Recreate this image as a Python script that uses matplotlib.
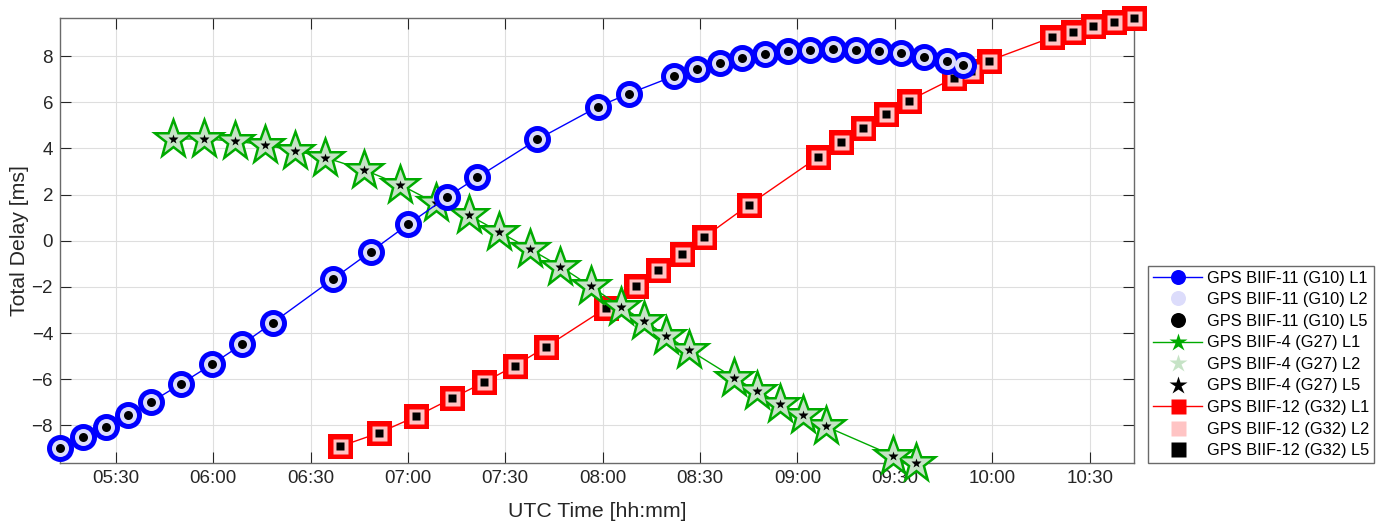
import matplotlib

matplotlib.use("Agg")
import matplotlib.pyplot as plt  # noqa: E402
import matplotlib.dates as mdates  # noqa: E402
from matplotlib.lines import Line2D  # noqa: E402
from matplotlib.markers import MarkerStyle  # noqa: E402
import pandas as pd  # noqa: E402

plt.rcParams["font.family"] = ["Liberation Sans", "DejaVu Sans"]

DAY = "2021-01-01 "

# GPS BIIF-11 (G10)
g10_time = ["05:12:50", "05:19:55", "05:26:55", "05:33:55", "05:40:55", "05:50:05",
            "05:59:35", "06:09:00", "06:18:25", "06:36:55", "06:48:30", "07:00:10",
            "07:11:55", "07:21:20", "07:39:55", "07:58:35", "08:08:00", "08:22:05",
            "08:29:00", "08:36:00", "08:43:00", "08:50:00", "08:57:00", "09:03:55",
            "09:11:00", "09:17:55", "09:25:00", "09:32:00", "09:39:00", "09:46:00",
            "09:50:55"]
g10_delay = [-8.98, -8.52, -8.05, -7.54, -6.99, -6.20, -5.36, -4.48, -3.55, -1.66,
             -0.48, 0.72, 1.88, 2.74, 4.39, 5.81, 6.37, 7.14, 7.44, 7.70, 7.92, 8.10,
             8.20, 8.28, 8.31, 8.28, 8.20, 8.13, 7.96, 7.80, 7.63]

# GPS BIIF-4 (G27)
g27_time = ["05:47:40", "05:57:10", "06:06:40", "06:15:55", "06:25:10", "06:34:35",
            "06:46:20", "06:57:35", "07:08:40", "07:18:55", "07:28:10", "07:37:35",
            "07:47:00", "07:56:20", "08:05:30", "08:12:50", "08:19:35", "08:26:30",
            "08:40:35", "08:47:35", "08:54:35", "09:01:40", "09:08:40", "09:29:35",
            "09:36:35"]
g27_delay = [4.41, 4.41, 4.32, 4.15, 3.90, 3.60, 3.08, 2.43, 1.62, 1.10, 0.38, -0.36,
             -1.12, -1.98, -2.85, -3.47, -4.12, -4.72, -5.95, -6.50, -7.06, -7.57,
             -8.04, -9.32, -9.63]

# GPS BIIF-12 (G32)
g32_time = ["06:39:10", "06:51:00", "07:02:35", "07:13:40", "07:23:20", "07:32:55",
            "07:42:25", "08:01:00", "08:10:10", "08:17:10", "08:24:25", "08:31:10",
            "08:45:05", "09:06:25", "09:13:20", "09:20:20", "09:27:20", "09:34:20",
            "09:48:20", "09:53:25", "09:59:00", "10:18:20", "10:24:50", "10:31:05",
            "10:37:25", "10:43:40"]
g32_delay = [-8.91, -8.33, -7.61, -6.82, -6.14, -5.42, -4.61, -2.92, -1.98, -1.26,
             -0.56, 0.14, 1.56, 3.63, 4.26, 4.90, 5.50, 6.07, 7.06, 7.34, 7.80, 8.81,
             9.04, 9.29, 9.48, 9.65]

satellites = ["GPS BIIF-11 (G10)", "GPS BIIF-4 (G27)", "GPS BIIF-12 (G32)"]
bands = ["L1", "L2", "L5"]

PX = 0.72  # points per pixel at dpi 100

# color, light color, marker, inner size, ring, L5 size, legend size (px)
styles = {
    "GPS BIIF-11 (G10)": ("#0000ff", "#dcdcfb", "o", 17, 10, 9, 15),
    "GPS BIIF-4 (G27)": ("#00aa00", "#c6e3c6", "*", 32, 5, 11, 19),
    "GPS BIIF-12 (G32)": ("#ff0000", "#ffc4c4", "s", 15, 10, 8, 15),
}


def to_dt(times):
    return pd.to_datetime([DAY + t for t in times])


def plot_sat(ax, t, d, style, z):
    color, light, marker, ms, ring, ms5, _ = style
    mk = MarkerStyle(marker, joinstyle="miter")
    ax.plot(t, d, "-", color=color, lw=1.0, marker=mk, ms=ms * PX, mfc=color,
            mec=color, mew=ring * PX, zorder=z, clip_on=False)
    ax.plot(t, d, ls="none", marker=marker, ms=ms * PX, mfc=light, mec="none",
            zorder=z + 0.1, clip_on=False)
    ax.plot(t, d, ls="none", marker=marker, ms=ms5 * PX, mfc="black", mec="none",
            zorder=z + 0.2, clip_on=False)


fig = plt.figure(figsize=(13.95, 5.23), dpi=100)
ax = fig.add_axes([60 / 1395, 60 / 523, (1134 - 60) / 1395, (463 - 18) / 523])

data = {
    "GPS BIIF-11 (G10)": (to_dt(g10_time), g10_delay),
    "GPS BIIF-4 (G27)": (to_dt(g27_time), g27_delay),
    "GPS BIIF-12 (G32)": (to_dt(g32_time), g32_delay),
}

# drawn back to front: G32, G27, G10
for z, sat in zip([3, 5, 7], reversed(satellites)):
    t, d = data[sat]
    plot_sat(ax, t, d, styles[sat], z)

all_t = [t for t, _ in data.values()]
all_d = [v for _, d in data.values() for v in d]
ax.set_xlim(min(t.min() for t in all_t), max(t.max() for t in all_t))
ax.set_ylim(min(all_d), max(all_d))

ax.xaxis.set_major_locator(mdates.MinuteLocator(byminute=[0, 30]))
ax.xaxis.set_major_formatter(mdates.DateFormatter("%H:%M"))
ax.set_yticks(range(-8, 9, 2))

ax.grid(True, color="#dedede", lw=0.8)
ax.set_axisbelow(True)
ax.tick_params(direction="in", length=8, width=0.8, top=True, right=True,
               labelsize=13.5, colors="#262626", pad=5)
for sp in ax.spines.values():
    sp.set_color("#6a6a6a")
    sp.set_linewidth(1.0)

ax.set_xlabel("UTC Time [hh:mm]", fontsize=15.3, color="#262626", labelpad=11)
ax.set_ylabel("Total Delay [ms]", fontsize=15.3, color="#262626", labelpad=2)

# legend with smaller proxy markers
handles, labels = [], []
for sat in satellites:
    color, light, marker, _, _, _, lsz = styles[sat]
    handles.append(Line2D([], [], color=color, lw=1.0, marker=marker, ms=lsz * PX,
                          mfc=color, mec="none"))
    handles.append(Line2D([], [], ls="none", marker=marker, ms=lsz * PX,
                          mfc=light, mec="none"))
    handles.append(Line2D([], [], ls="none", marker=marker, ms=lsz * PX,
                          mfc="black", mec="none"))
    labels += [f"{sat} {b}" for b in bands]

leg = fig.legend(handles, labels, loc="lower left",
                 bbox_to_anchor=(1148 / 1395, 60 / 523), fontsize=11.8,
                 frameon=True, fancybox=False, framealpha=1, edgecolor="#6a6a6a",
                 borderpad=0.3, borderaxespad=0, handlelength=3.0,
                 handletextpad=0.3, labelspacing=0.4)
leg.get_frame().set_linewidth(1.0)

fig.savefig("out.png", dpi=100, facecolor="white")
